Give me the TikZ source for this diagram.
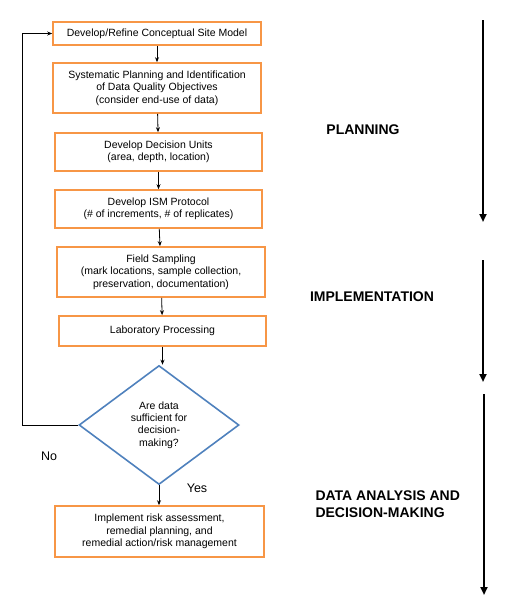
\documentclass[tikz,border=0pt]{standalone}
\usepackage{fontspec}
\setmainfont{Liberation Sans}
\usetikzlibrary{shapes.geometric,arrows.meta}
\definecolor{boxorange}{RGB}{247,150,70}
\definecolor{diamblue}{RGB}{79,129,189}
\tikzset{
  stepbox/.style={draw=boxorange,line width=1.6pt,fill=white,align=center,
    minimum width=208pt,inner sep=0pt,font=\fontsize{10.5}{12.5}\selectfont},
  flow/.style={->,>={Stealth[length=5pt,width=4pt]},line width=0.8pt},
  phase/.style={line width=2.2pt,-{Triangle[length=8pt,width=7pt]}},
  phaselabel/.style={font=\fontsize{14}{17}\selectfont\bfseries,align=left}
}
\begin{document}
\begin{tikzpicture}[x=1pt,y=-1pt]
        \useasboundingbox (0,0) rectangle (508,613);
        % boxes
        \node[stepbox,minimum height=23pt] (csm) at (157,33.5) {Develop/Refine Conceptual Site Model};
        \node[stepbox,minimum height=50pt] (dqo) at (157,88) {Systematic Planning and Identification\\of Data Quality Objectives\\(consider end-use of data)};
        \node[stepbox,minimum height=38pt,minimum width=207pt] (du) at (158.5,152) {Develop Decision Units\\(area, depth, location)};
        \node[stepbox,minimum height=38pt,minimum width=207pt] (ism) at (158.5,209) {Develop ISM Protocol\\(\# of increments, \# of replicates)};
        \node[stepbox,minimum height=50pt] (field) at (161,272) {Field Sampling\\(mark locations, sample collection,\\preservation, documentation)};
        \node[stepbox,minimum height=30pt,minimum width=207pt] (lab) at (162.5,331) {Laboratory Processing};
        % decision
        \node[diamond,draw=diamblue,line width=1.6pt,align=center,inner sep=0pt,
          minimum width=160pt,minimum height=119pt,
          font=\fontsize{10.5}{12.3}\selectfont] (dec) at (159,425) {Are data\\sufficient for\\decision-\\making?};
        \node[stepbox,minimum height=51pt,minimum width=209pt] (risk) at (159.5,531.5) {Implement risk assessment,\\remedial planning, and\\remedial action/risk management};
        % connectors
        \draw[flow] (csm) -- (dqo);
        \draw[flow] (dqo) -- (du);
        \draw[flow] (du) -- (ism);
        \draw[flow] (ism) -- (field);
        \draw[flow] (field) -- (lab);
        \draw[flow] (lab.south) -- (lab.south |- dec.north);
        \draw[flow] (dec.south) -- (dec.south |- risk.north);
        \coordinate (loop) at (22,425);
        \draw[flow] (dec.west) -- (loop) |- (csm.west);
        \node[font=\fontsize{12.5}{15}\selectfont] (no) at (49,456) {No};
        \node[font=\fontsize{12.5}{15}\selectfont] (yes) at (197,488) {Yes};
        % phases
        \coordinate (p1s) at (483,20);
        \coordinate (p1e) at (483,222);
        \coordinate (p2s) at (483,260);
        \coordinate (p2e) at (483,382);
        \coordinate (p3s) at (484,394);
        \coordinate (p3e) at (484,595);
        \draw[phase] (p1s) -- (p1e);
        \draw[phase] (p2s) -- (p2e);
        \draw[phase] (p3s) -- (p3e);
        \node[phaselabel] (plan) at (363,130) {PLANNING};
        \node[phaselabel] (impl) at (372,297) {IMPLEMENTATION};
        \node[phaselabel,anchor=west] (data) at (312,504) {DATA ANALYSIS AND\\DECISION-MAKING};
    \end{tikzpicture}
\end{document}
